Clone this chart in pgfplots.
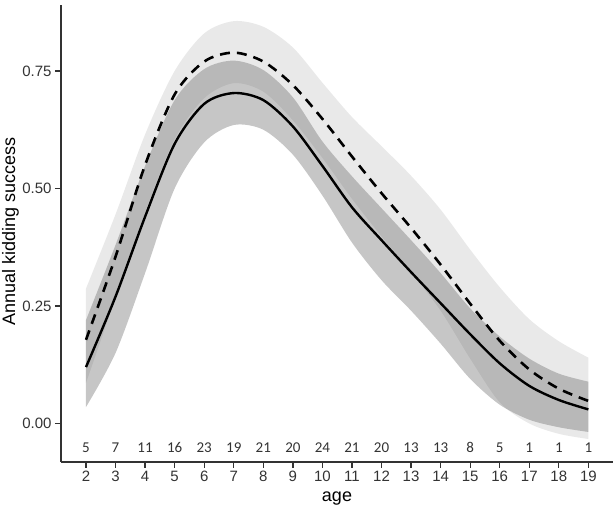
\documentclass[border=0pt]{standalone}
\usepackage{fontspec}
\setmainfont{Liberation Sans}
\newfontfamily\carlito{Carlito}
\usepackage{pgfplots}
\usepackage{pgfplotstable}
\pgfplotsset{compat=1.18}
\usepgfplotslibrary{fillbetween}

\definecolor{bandA}{HTML}{E9E9E9}
\definecolor{bandB}{HTML}{6D6D6D}
\definecolor{axisgray}{HTML}{333333}

% fitted curves (solid / dashed) with their bands, and sample size per age
\pgfplotstableread{
age solid dashed aup   alo    bup   blo    lab    n
2   0.120 0.178  0.287 0.086  0.220 0.035  -0.051 5
3   0.270 0.355  0.445 0.268  0.380 0.150  -0.051 7
4   0.440 0.550  0.615 0.450  0.548 0.320  -0.051 11
5   0.595 0.700  0.750 0.605  0.688 0.500  -0.051 16
6   0.680 0.770  0.830 0.692  0.754 0.598  -0.051 23
7   0.703 0.789  0.856 0.724  0.772 0.635  -0.051 19
8   0.688 0.770  0.844 0.706  0.752 0.625  -0.051 21
9   0.632 0.720  0.800 0.645  0.694 0.572  -0.051 20
10  0.548 0.648  0.725 0.565  0.600 0.485  -0.051 24
11  0.460 0.568  0.652 0.478  0.526 0.385  -0.051 21
12  0.390 0.490  0.590 0.398  0.458 0.305  -0.051 20
13  0.322 0.416  0.527 0.322  0.390 0.240  -0.051 13
14  0.256 0.338  0.455 0.240  0.320 0.170  -0.051 13
15  0.190 0.255  0.370 0.138  0.245 0.095  -0.051 8
16  0.128 0.176  0.290 0.045  0.185 0.040  -0.051 5
17  0.080 0.115  0.222 0.000  0.138 0.008  -0.051 1
18  0.050 0.074  0.175 -0.022 0.106 -0.008 -0.051 1
19  0.030 0.048  0.140 -0.033 0.089 -0.018 -0.051 1
}\kidding

\begin{document}
\begin{tikzpicture}
\begin{axis}[
    scale only axis,
    width=552pt, height=457pt,
    xmin=1.154, xmax=19.834,
    ymin=-0.0819, ymax=0.8904,
    axis x line*=bottom, axis y line*=left,
    axis line style={axisgray, line width=1.3pt, -},
    tick style={axisgray, line width=1.3pt},
    tick align=outside,
    major tick length=6pt,
    xtick={2,...,19},
    ytick={0,0.25,0.5,0.75},
    /pgf/number format/assume math mode=true,
    yticklabel style={/pgf/number format/fixed,
        /pgf/number format/fixed zerofill,
        /pgf/number format/precision=2},
    ticklabel style={font=\fontsize{15}{18}\selectfont, text=axisgray},
    xlabel={age},
    ylabel={Annual kidding success},
    label style={font=\fontsize{18}{21}\selectfont},
    xlabel style={at={(rel axis cs:0.5,-0.080)}, anchor=center},
    ylabel style={at={(rel axis cs:-0.0915,0.505)}, anchor=center},
    clip=false,
]
\addplot[draw=none, forget plot, smooth, name path=aup] table[x=age, y=aup] {\kidding};
\addplot[draw=none, forget plot, smooth, name path=alo] table[x=age, y=alo] {\kidding};
\addplot[fill=bandA, draw=none] fill between[of=aup and alo];

\addplot[draw=none, forget plot, smooth, name path=bup] table[x=age, y=bup] {\kidding};
\addplot[draw=none, forget plot, smooth, name path=blo] table[x=age, y=blo] {\kidding};
\addplot[fill=bandB, fill opacity=0.39, draw=none] fill between[of=bup and blo];

\addplot[black, line width=2.4pt, smooth] table[x=age, y=solid] {\kidding};
\addplot[black, line width=2.6pt, smooth, dash pattern=on 10pt off 7pt] table[x=age, y=dashed] {\kidding};

\addplot[draw=none, mark=none, nodes near coords, point meta=explicit symbolic,
    nodes near coords style={font=\carlito\fontsize{15}{17}\selectfont, anchor=center, text=axisgray}]
    table[x=age, y=lab, meta=n] {\kidding};

\coordinate (bbl) at (rel axis cs:-0.1105,-0.1028);
\coordinate (btr) at (rel axis cs:1.0036,1.0109);
\end{axis}
\pgfresetboundingbox
\path (bbl) rectangle (btr);
\end{tikzpicture}
\end{document}
